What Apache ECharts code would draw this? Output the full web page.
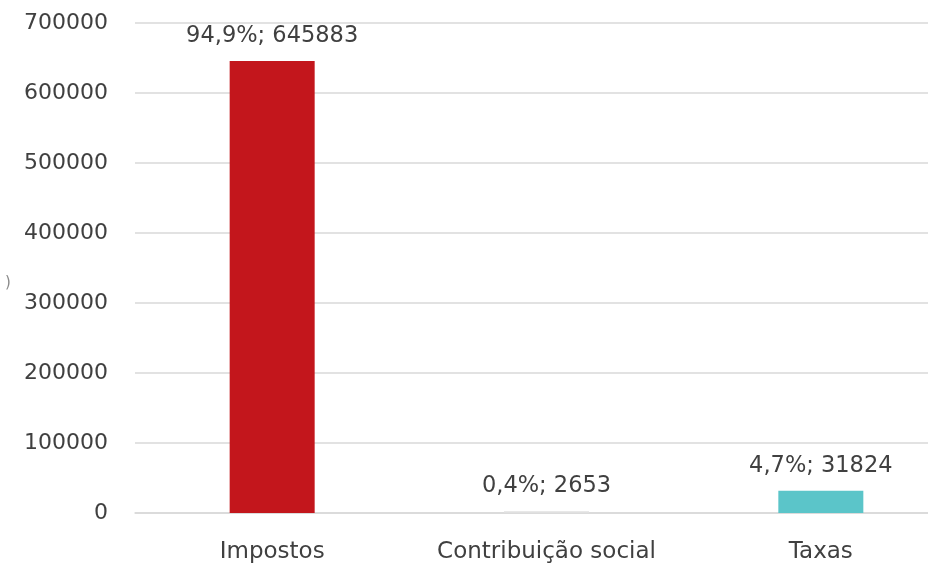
<!DOCTYPE html>
<html>
<head>
<meta charset="utf-8">
<script src="https://cdn.jsdelivr.net/npm/echarts@6/dist/echarts.min.js"></script>
<style>
  html, body { margin: 0; padding: 0; background: #ffffff; overflow: hidden; }
  #frame { width: 928px; height: 565px; overflow: hidden; }
  /* the plot area runs past the right edge of the visible frame */
  #chart { width: 958px; height: 565px; }
</style>
</head>
<body>
<div id="frame"><div id="chart"></div></div>
<script>
// Receitas por tipo de tributo
const categories = ['Impostos', 'Contribuição social', 'Taxas'];
const values = [645883, 2653, 31824];
const shares = ['94,9%', '0,4%', '4,7%'];
const barColors = ['#C3161C', '#E0E0E0', '#5BC5C9'];
const yTicks = { min: 0, max: 700000, interval: 100000 };

const FONT = 'DejaVu Sans';
const TEXT = '#404040';

const chart = echarts.init(document.getElementById('chart'), null, { renderer: 'canvas' });

chart.setOption({
  animation: false,
  backgroundColor: '#ffffff',
  grid: { left: 135, right: 0, top: 23, bottom: 52, containLabel: false },
  xAxis: {
    type: 'category',
    data: categories,
    axisLine: { show: true, lineStyle: { color: '#d9d9d9', width: 1.5 } },
    axisTick: { show: false },
    axisLabel: { interval: 0, color: TEXT, fontFamily: FONT, fontSize: 23, margin: 28 }
  },
  yAxis: {
    type: 'value',
    min: yTicks.min,
    max: yTicks.max,
    interval: yTicks.interval,
    axisLine: { show: false },
    axisTick: { show: false },
    axisLabel: {
      color: TEXT, fontFamily: FONT, fontSize: 22, margin: 27,
      formatter: v => String(v)
    },
    splitLine: { lineStyle: { color: '#d9d9d9', width: 1.5 } }
  },
  series: [{
    type: 'bar',
    barWidth: 85,
    data: values.map((v, i) => ({ value: v, itemStyle: { color: barColors[i] } })),
    label: {
      show: true,
      position: 'top',
      distance: 13,
      color: TEXT,
      fontFamily: FONT,
      fontSize: 22.5,
      formatter: p => shares[p.dataIndex] + '; ' + p.value
    }
  }],
  graphic: [{
    type: 'text',
    left: 5,
    top: 276,
    style: { text: ')', fill: '#8a8a8a', font: '15px "DejaVu Sans"' }
  }]
});
</script>
</body>
</html>
